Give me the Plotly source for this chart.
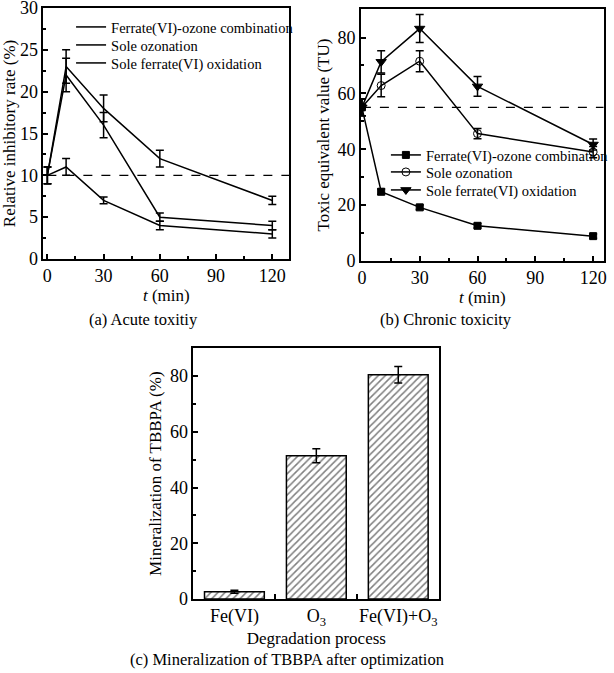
import plotly.graph_objects as go

# ---------------- data ----------------
t_min = [0, 10, 30, 60, 120]

# (a) Acute toxicity: relative inhibitory rate (%)
acute_comb = [10, 11, 7, 4, 3]
acute_comb_err = [1, 1, 0.4, 0.5, 0.5]
acute_ozone = [10, 22, 16, 5, 4]
acute_ozone_err = [1, 2, 1.5, 0.5, 0.5]
acute_ferrate = [10, 23, 18, 12, 7]
acute_ferrate_err = [1, 2, 1.6, 1, 0.5]
acute_threshold = 10

# (b) Chronic toxicity: toxic equivalent value (TU)
chronic_comb = [55, 24.8, 19.2, 12.6, 8.9]
chronic_comb_err = [3, 1, 0.8, 0.8, 0.8]
chronic_ozone = [55, 62.8, 71.5, 45.6, 39]
chronic_ozone_err = [3, 4, 3.8, 1.8, 2]
chronic_ferrate = [55, 71.3, 83.2, 62.5, 41.7]
chronic_ferrate_err = [3, 4, 5, 3.5, 2]
chronic_threshold = 55

# (c) Mineralization of TBBPA
processes = ["Fe(VI)", "O<sub>3</sub>", "Fe(VI)+O<sub>3</sub>"]
mineralization = [2.6, 51.4, 80.5]
mineralization_err = [0.5, 2.5, 3]

series_names = ["Ferrate(VI)-ozone combination", "Sole ozonation", "Sole ferrate(VI) oxidation"]

FONT = "Liberation Serif"
BLK = "black"
TICK_SIZE = 18
TITLE_SIZE = 17
LEG_SIZE = 14.5
CAP_SIZE = 16.5

fig = go.Figure()

def errbar(arr):
    return dict(type="data", array=arr, visible=True, color=BLK, thickness=1.5, width=4)

# ---- panel (a)
for i, (y, e) in enumerate([(acute_comb, acute_comb_err), (acute_ozone, acute_ozone_err),
                            (acute_ferrate, acute_ferrate_err)]):
    fig.add_trace(go.Scatter(x=t_min, y=y, error_y=errbar(e), mode="lines",
                             line=dict(color=BLK, width=1.5), name=series_names[i],
                             xaxis="x", yaxis="y", legend="legend" if i == 0 else f"legend{i+1}"))
fig.add_trace(go.Scatter(x=[0, 129], y=[acute_threshold] * 2, mode="lines",
                         line=dict(color=BLK, width=1.2, dash="dash"), showlegend=False,
                         xaxis="x", yaxis="y"))

# ---- panel (b)
symbols = ["square", "circle-open", "triangle-down"]
sizes = [7, 8, 9]
for i, (y, e) in enumerate([(chronic_comb, chronic_comb_err), (chronic_ozone, chronic_ozone_err),
                            (chronic_ferrate, chronic_ferrate_err)]):
    fig.add_trace(go.Scatter(x=t_min, y=y, error_y=errbar(e), mode="lines+markers",
                             line=dict(color=BLK, width=1.5),
                             marker=dict(symbol=symbols[i], size=sizes[i], color=BLK,
                                         line=dict(color=BLK, width=1)),
                             name=series_names[i], xaxis="x2", yaxis="y2",
                             legend=f"legend{i+4}"))
fig.add_trace(go.Scatter(x=[0, 125.5], y=[chronic_threshold] * 2, mode="lines",
                         line=dict(color=BLK, width=1.2, dash="dash"), showlegend=False,
                         xaxis="x2", yaxis="y2"))

# ---- panel (c)
fig.add_trace(go.Bar(x=processes, y=mineralization, error_y=errbar(mineralization_err),
                     width=0.73, marker=dict(color="white", line=dict(color=BLK, width=1.5),
                                             pattern=dict(shape="/", fgcolor=BLK, bgcolor="white",
                                                          size=5, solidity=0.3)),
                     showlegend=False, xaxis="x3", yaxis="y3"))

def axis(domain, anchor, rng, dtick, minor_dtick, title, standoff, **kw):
    d = dict(domain=domain, anchor=anchor, showline=True, linecolor=BLK, linewidth=1.5,
             mirror=True, ticks="inside", ticklen=5, tickwidth=1.5, tickcolor=BLK,
             showgrid=False, zeroline=False, automargin=False, ticklabeloverflow="allow",
             tickfont=dict(family=FONT, size=TICK_SIZE, color=BLK),
             title=dict(text=title, font=dict(family=FONT, size=TITLE_SIZE, color=BLK),
                        standoff=standoff))
    if rng is not None:
        d["range"] = rng
    if dtick is not None:
        d["dtick"] = dtick
        d["tick0"] = 0
    if minor_dtick is not None:
        d["minor"] = dict(ticks="inside", ticklen=3, tickwidth=1.5, tickcolor=BLK,
                          dtick=minor_dtick, tick0=0, showgrid=False)
    d.update(kw)
    return d

W, H = 614, 673
def px_x(a, b):
    return [a / W, b / W]
def px_y(top, bottom):
    return [1 - bottom / H, 1 - top / H]

legend_common = dict(font=dict(family=FONT, size=LEG_SIZE, color=BLK), bgcolor="rgba(0,0,0,0)",
                     borderwidth=0, xanchor="left", yanchor="middle", itemwidth=30,
                     tracegroupgap=0)
legends = {}
rows_a = [27, 45, 63]
rows_b = [155, 172, 190]
for i, r in enumerate(rows_a):
    key = "legend" if i == 0 else f"legend{i+1}"
    legends[key] = dict(legend_common, x=72 / W, y=1 - r / H)
for i, r in enumerate(rows_b):
    legends[f"legend{i+4}"] = dict(legend_common, x=391 / W, y=1 - r / H)

def caption(text, cx, cy):
    return dict(text=text, x=cx / W, y=1 - cy / H, xref="paper", yref="paper",
                xanchor="center", yanchor="middle", showarrow=False,
                font=dict(family=FONT, size=CAP_SIZE, color=BLK))

fig.update_layout(
    width=W, height=H, margin=dict(l=0, r=0, t=0, b=0),
    paper_bgcolor="white", plot_bgcolor="white",
    font=dict(family=FONT, color=BLK),
    xaxis=axis(px_x(44, 293), "y", [-2.1, 129], 30, 15, "<i>t</i> (min)", 2),
    yaxis=axis(px_y(8, 259), "x", [0, 30], 5, 2.5, "Relative inhibitory rate (%)", 4),
    xaxis2=axis(px_x(365.7, 611.7), "y2", [-0.5, 125.5], 30, 15, "<i>t</i> (min)", 2),
    yaxis2=axis(px_y(9, 261), "x2", [0, 90.2], 20, 10, "Toxic equivalent value (TU)", 4),
    xaxis3=axis(px_x(196, 445), "y3", [-0.5, 2.5], None, None, "Degradation process", 2,
                tickson="boundaries", tickangle=0),
    yaxis3=axis(px_y(348.3, 599), "x3", [0, 90], 20, 10, "Mineralization of TBBPA (%)", 4),
    annotations=[
        caption("(a) Acute toxitiy", 145, 319),
        caption("(b) Chronic toxicity", 452, 319),
        caption("(c) Mineralization of TBBPA after optimization", 291, 659),
    ],
    **legends,
)

fig.write_html("out.html", config={"displayModeBar": False},
               post_script="document.body.style.margin='0';")
